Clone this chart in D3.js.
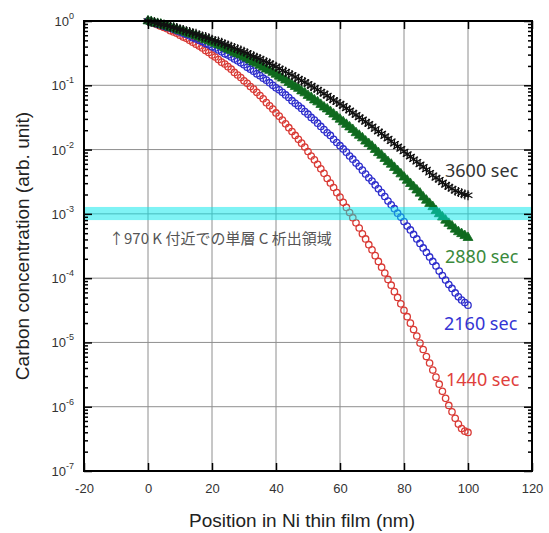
<!DOCTYPE html>
<html>
<head>
<meta charset="utf-8">
<script src="https://cdn.jsdelivr.net/npm/d3@7"></script>
<style>
  body { margin: 0; background: #fff; }
</style>
</head>
<body>
<svg id="chart" width="549" height="533"></svg>
<script>
// sample positions in the film (nm), one point per nm
var positionNm = d3.range(0, 101);

// log10 of the carbon concentration for each anneal time
var logC1440 = [
  0, -0.02, -0.04, -0.06, -0.08, -0.10, -0.12, -0.15, -0.17, -0.19,
  -0.22, -0.25, -0.27, -0.30, -0.33, -0.36, -0.39, -0.42, -0.46, -0.49,
  -0.53, -0.56, -0.60, -0.64, -0.67, -0.71, -0.75, -0.80, -0.84, -0.88,
  -0.93, -0.97, -1.02, -1.06, -1.11, -1.16, -1.21, -1.27, -1.32, -1.37,
  -1.43, -1.48, -1.54, -1.60, -1.66, -1.72, -1.78, -1.84, -1.90, -1.96,
  -2.03, -2.10, -2.16, -2.23, -2.30, -2.37, -2.45, -2.52, -2.59, -2.67,
  -2.74, -2.82, -2.90, -2.98, -3.06, -3.14, -3.22, -3.31, -3.39, -3.48,
  -3.56, -3.65, -3.74, -3.83, -3.92, -4.02, -4.11, -4.21, -4.30, -4.40,
  -4.50, -4.60, -4.70, -4.80, -4.90, -5.01, -5.11, -5.22, -5.32, -5.43,
  -5.54, -5.65, -5.76, -5.87, -5.98, -6.08, -6.18, -6.27, -6.34, -6.38,
  -6.40
];
var logC2160 = [
  0, -0.02, -0.03, -0.05, -0.06, -0.08, -0.10, -0.11, -0.13, -0.15,
  -0.17, -0.19, -0.21, -0.23, -0.26, -0.28, -0.30, -0.32, -0.35, -0.37,
  -0.40, -0.42, -0.45, -0.48, -0.51, -0.53, -0.56, -0.59, -0.62, -0.65,
  -0.68, -0.72, -0.75, -0.78, -0.82, -0.85, -0.89, -0.92, -0.96, -1.00,
  -1.04, -1.07, -1.11, -1.15, -1.19, -1.24, -1.28, -1.32, -1.36, -1.41,
  -1.45, -1.50, -1.54, -1.59, -1.64, -1.69, -1.74, -1.78, -1.84, -1.89,
  -1.94, -1.99, -2.04, -2.10, -2.15, -2.21, -2.26, -2.32, -2.38, -2.44,
  -2.49, -2.55, -2.61, -2.67, -2.73, -2.80, -2.86, -2.92, -2.99, -3.05,
  -3.12, -3.19, -3.25, -3.32, -3.39, -3.46, -3.53, -3.60, -3.67, -3.74,
  -3.81, -3.89, -3.96, -4.03, -4.10, -4.16, -4.23, -4.29, -4.34, -4.38,
  -4.42
];
var logC2880 = [
  0, -0.01, -0.03, -0.04, -0.05, -0.07, -0.08, -0.10, -0.11, -0.13,
  -0.15, -0.16, -0.18, -0.20, -0.21, -0.23, -0.25, -0.27, -0.29, -0.31,
  -0.33, -0.35, -0.37, -0.39, -0.42, -0.44, -0.46, -0.49, -0.51, -0.53,
  -0.56, -0.58, -0.61, -0.64, -0.66, -0.69, -0.72, -0.75, -0.77, -0.80,
  -0.83, -0.86, -0.89, -0.92, -0.96, -0.99, -1.02, -1.05, -1.09, -1.12,
  -1.16, -1.19, -1.23, -1.26, -1.30, -1.34, -1.37, -1.41, -1.45, -1.49,
  -1.53, -1.57, -1.61, -1.65, -1.69, -1.74, -1.78, -1.82, -1.87, -1.91,
  -1.95, -2.00, -2.05, -2.09, -2.14, -2.19, -2.23, -2.28, -2.33, -2.38,
  -2.43, -2.48, -2.53, -2.58, -2.63, -2.68, -2.74, -2.79, -2.84, -2.89,
  -2.95, -3.00, -3.05, -3.10, -3.15, -3.19, -3.24, -3.28, -3.31, -3.34,
  -3.37
];
var logC3600 = [
  0, -0.01, -0.02, -0.04, -0.05, -0.06, -0.07, -0.09, -0.10, -0.11,
  -0.13, -0.14, -0.16, -0.17, -0.19, -0.20, -0.22, -0.24, -0.25, -0.27,
  -0.29, -0.31, -0.32, -0.34, -0.36, -0.38, -0.40, -0.42, -0.44, -0.46,
  -0.48, -0.50, -0.53, -0.55, -0.57, -0.59, -0.62, -0.64, -0.66, -0.69,
  -0.71, -0.74, -0.77, -0.79, -0.82, -0.84, -0.87, -0.90, -0.93, -0.95,
  -0.98, -1.01, -1.04, -1.07, -1.10, -1.13, -1.16, -1.20, -1.23, -1.26,
  -1.29, -1.32, -1.36, -1.39, -1.43, -1.46, -1.50, -1.53, -1.57, -1.60,
  -1.64, -1.68, -1.72, -1.75, -1.79, -1.83, -1.87, -1.91, -1.95, -1.99,
  -2.03, -2.07, -2.11, -2.15, -2.19, -2.23, -2.27, -2.31, -2.36, -2.40,
  -2.44, -2.47, -2.51, -2.55, -2.58, -2.61, -2.64, -2.66, -2.68, -2.70,
  -2.71
];

var xTicks = [-20, 0, 20, 40, 60, 80, 100, 120];
var yDecades = [0, -1, -2, -3, -4, -5, -6, -7];

// single-layer C precipitation window around 970 K
var bandLow = 8.0e-4, bandHigh = 1.28e-3;
var noteText = "\u2191970 K 付近での単層 C 析出領域";

var xTitle = "Position in Ni thin film (nm)";
var yTitle = "Carbon concentration (arb. unit)";

var svg = d3.select("#chart");
var m = {left: 84, right: 532, top: 21, bottom: 471};

var x = d3.scaleLinear().domain([-20, 120]).range([m.left, m.right]);
var y = d3.scaleLog().domain([1e-7, 1]).range([m.bottom, m.top]);

// grid
var grid = svg.append("g").attr("stroke", "#8e8e8e").attr("stroke-width", 1);
grid.selectAll("line.vx")
  .data(xTicks.slice(1, -1))
  .enter().append("line")
  .attr("x1", function(d){ return x(d); }).attr("x2", function(d){ return x(d); })
  .attr("y1", m.top).attr("y2", m.bottom);
grid.selectAll("line.hy")
  .data(yDecades.slice(1, -1))
  .enter().append("line")
  .attr("x1", m.left).attr("x2", m.right)
  .attr("y1", function(d){ return y(Math.pow(10, d)); })
  .attr("y2", function(d){ return y(Math.pow(10, d)); });

// series, drawn bottom-up so black ends on top
var asterisk = "M0,-5V5M-4.4,-2.5L4.4,2.5M-4.4,2.5L4.4,-2.5";
var triangle = d3.symbol().type(d3.symbolTriangle).size(42)();

var series = [
  {name: "1440 sec", logs: logC1440, color: "#d93a35", labelColor: "#e0403c", mark: "circle", lx: 446, ly: 386},
  {name: "2160 sec", logs: logC2160, color: "#2d2dcc", labelColor: "#3434d4", mark: "circle", lx: 444, ly: 330},
  {name: "2880 sec", logs: logC2880, color: "#0f6a1e", labelColor: "#3a8a3c", mark: "triangle", lx: 445, ly: 263},
  {name: "3600 sec", logs: logC3600, color: "#111111", labelColor: "#333333", mark: "asterisk", lx: 445, ly: 177}
];

series.forEach(function(s){
  var pts = positionNm.map(function(p, i){ return {x: p, c: Math.pow(10, s.logs[i])}; });
  var g = svg.append("g");
  if (s.mark === "circle") {
    g.selectAll("circle").data(pts).enter().append("circle")
      .attr("cx", function(d){ return x(d.x); })
      .attr("cy", function(d){ return y(d.c); })
      .attr("r", 3.2)
      .attr("fill", "none")
      .attr("stroke", s.color)
      .attr("stroke-width", 1.3);
  } else {
    g.selectAll("path").data(pts).enter().append("path")
      .attr("transform", function(d){ return "translate(" + x(d.x) + "," + y(d.c) + ")"; })
      .attr("d", s.mark === "triangle" ? triangle : asterisk)
      .attr("fill", s.mark === "triangle" ? s.color : "none")
      .attr("stroke", s.color)
      .attr("stroke-width", s.mark === "triangle" ? 0.8 : 1.3);
  }
});

// translucent cyan band sits over the curves
svg.append("rect")
  .attr("x", m.left).attr("width", m.right - m.left)
  .attr("y", y(bandHigh)).attr("height", y(bandLow) - y(bandHigh))
  .attr("fill", "rgb(0,232,236)")
  .attr("opacity", 0.5);

svg.append("text")
  .attr("x", 109).attr("y", 244)
  .attr("font-family", "'Noto Sans CJK JP', 'Noto Sans', sans-serif")
  .attr("font-size", 15)
  .attr("fill", "#555")
  .text(noteText);

// series labels
svg.append("g").selectAll("text").data(series).enter().append("text")
  .attr("x", function(d){ return d.lx; })
  .attr("y", function(d){ return d.ly; })
  .attr("font-family", "'Noto Sans', sans-serif")
  .attr("font-size", 18)
  .attr("fill", function(d){ return d.labelColor; })
  .text(function(d){ return d.name; });

// axes: ticks point inward on all four sides
var minorVals = [];
yDecades.slice(1).forEach(function(d){
  for (var k = 2; k <= 9; k++) minorVals.push(k * Math.pow(10, d));
});
var majorVals = yDecades.map(function(d){ return Math.pow(10, d); });

function styleAxis(g){
  g.select(".domain").remove();
  g.selectAll(".tick line").attr("stroke", "#000").attr("stroke-width", 1.5);
}

svg.append("g").attr("transform", "translate(" + m.left + ",0)")
  .call(d3.axisLeft(y).tickValues(majorVals).tickSize(-8).tickFormat(""))
  .call(styleAxis);
svg.append("g").attr("transform", "translate(" + m.left + ",0)")
  .call(d3.axisLeft(y).tickValues(minorVals).tickSize(-4).tickFormat(""))
  .call(styleAxis);
svg.append("g").attr("transform", "translate(" + m.right + ",0)")
  .call(d3.axisRight(y).tickValues(majorVals).tickSize(-8).tickFormat(""))
  .call(styleAxis);
svg.append("g").attr("transform", "translate(" + m.right + ",0)")
  .call(d3.axisRight(y).tickValues(minorVals).tickSize(-4).tickFormat(""))
  .call(styleAxis);

var bottomAxis = svg.append("g").attr("transform", "translate(0," + m.bottom + ")")
  .call(d3.axisBottom(x).tickValues(xTicks).tickSize(-8).tickPadding(13)
    .tickFormat(function(d){ return String(d); }))
  .call(styleAxis);
bottomAxis.selectAll("text")
  .attr("font-family", "'Liberation Sans', Arial, sans-serif")
  .attr("font-size", 13)
  .attr("fill", "#333");
svg.append("g").attr("transform", "translate(0," + m.top + ")")
  .call(d3.axisTop(x).tickValues(xTicks).tickSize(-8).tickFormat(""))
  .call(styleAxis);

// y tick labels as 10 with a superscript exponent
var yLab = svg.append("g")
  .attr("font-family", "'Liberation Sans', Arial, sans-serif")
  .attr("fill", "#333");
yDecades.forEach(function(d){
  var t = yLab.append("text")
    .attr("x", m.left - 10)
    .attr("y", y(Math.pow(10, d)) + 5)
    .attr("text-anchor", "end")
    .attr("font-size", 13);
  t.append("tspan").text("10");
  t.append("tspan").attr("dy", -7).attr("font-size", 9).text(String(d));
});

// frame
svg.append("rect")
  .attr("x", m.left).attr("y", m.top)
  .attr("width", m.right - m.left).attr("height", m.bottom - m.top)
  .attr("fill", "none").attr("stroke", "#000").attr("stroke-width", 2);

// axis titles
svg.append("text")
  .attr("x", 302).attr("y", 527)
  .attr("text-anchor", "middle")
  .attr("font-family", "'Liberation Sans', Arial, sans-serif")
  .attr("font-size", 19)
  .attr("fill", "#222")
  .text(xTitle);
svg.append("text")
  .attr("transform", "translate(29,246) rotate(-90)")
  .attr("text-anchor", "middle")
  .attr("font-family", "'Liberation Sans', Arial, sans-serif")
  .attr("font-size", 19)
  .attr("fill", "#222")
  .text(yTitle);
</script>
</body>
</html>
